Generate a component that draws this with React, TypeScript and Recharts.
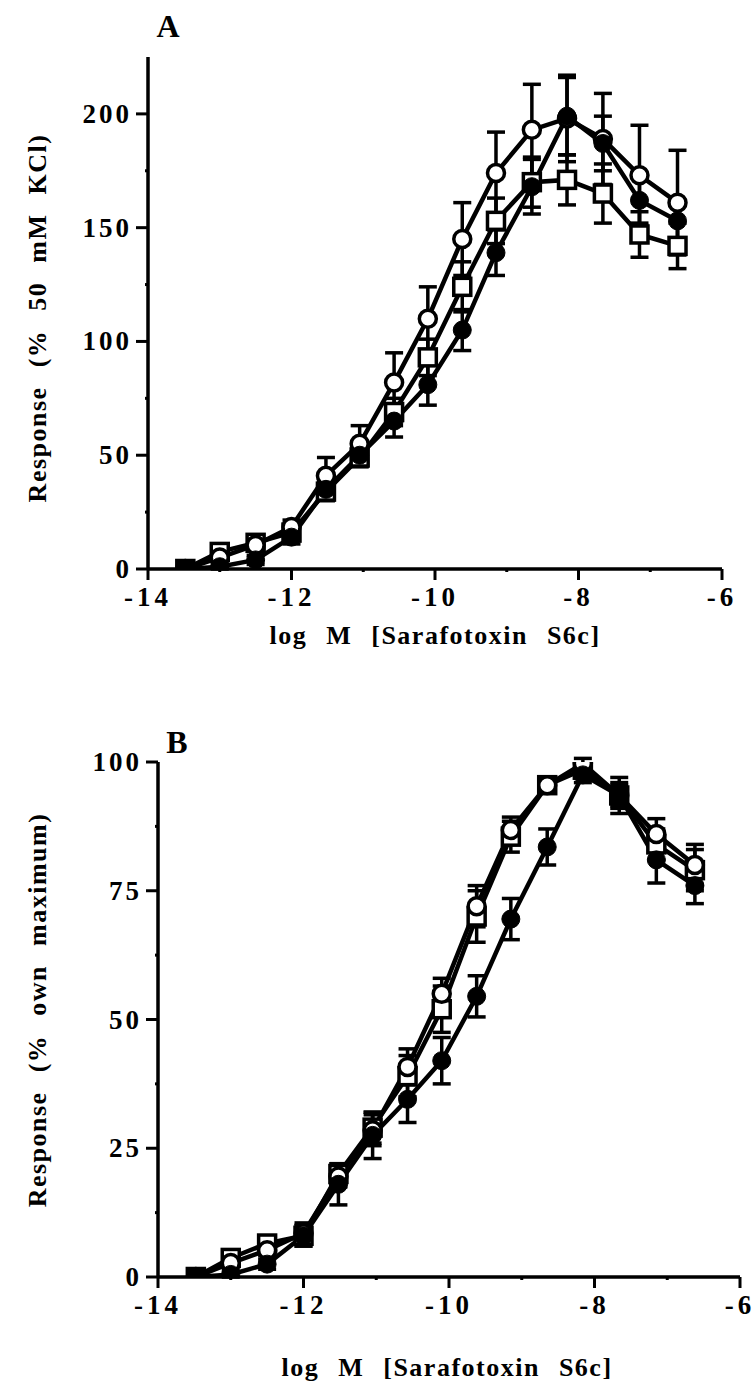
import React from "react";
import { ComposedChart, Line, XAxis, YAxis, ErrorBar } from "recharts";

// log molar concentrations
const logConc = [-13.48, -13.0, -12.5, -12.0, -11.52, -11.05, -10.57, -10.1, -9.62, -9.15, -8.65, -8.16, -7.66, -7.15, -6.62];

// Panel A: % 50 mM KCl
const openCircleA = [0, 5, 10.5, 18.5, 41, 55, 82, 110, 145, 174, 193, 198, 189, 173, 161];
const openCircleAErr = [0, 2, 2, 3, 8, 8, 13, 14, 16, 18, 20, 19, 20, 22, 23];
const filledCircleA = [0, 1, 4, 14, 35, 50, 65, 81, 105, 139, 168, 199, 187, 162, 153];
const filledCircleAErr = [0, 1, 2, 3, 4, 5, 7, 9, 9, 10, 12, 17, 12, 10, 9];
const openSquareA = [0, 7.5, 11.5, 16, 34, 49, 69, 93, 124, 153, 170, 171, 165, 147, 142];
const openSquareAErr = [0, 2, 2, 3, 4, 4, 6, 8, 11, 10, 11, 11, 13, 10, 10];

// Panel B: % own maximum
const openCircleB = [0, 2.7, 5.2, 8.5, 19.5, 28.5, 40.8, 55, 72, 86.8, 95.5, 99.7, 93.5, 86, 80];
const openCircleBErr = [0, 1, 1, 2, 2, 3, 3.5, 3, 4, 2.5, 1.5, 1, 2, 3, 4];
const filledCircleB = [0, 0.5, 2.5, 8, 18, 27.5, 34.5, 42, 54.5, 69.5, 83.5, 97.5, 93.5, 81, 76];
const filledCircleBErr = [0, 0.5, 1, 2, 4, 4.5, 4.5, 4.5, 4, 4, 3.5, 1.5, 2.5, 4.5, 3.5];
const openSquareB = [0, 3.7, 6.5, 8, 20, 29, 39, 52, 70, 85.5, 95.5, 98.5, 93.5, 84, 79];
const openSquareBErr = [0, 1, 1, 2, 2, 3, 4, 4.5, 5, 3, 1.5, 1, 3.5, 3, 4];

const xTicks = [-14, -13, -12, -11, -10, -9, -8, -7, -6];
const yTicksA = [0, 25, 50, 75, 100, 125, 150, 175, 200];
const yTicksB = [0, 12.5, 25, 37.5, 50, 62.5, 75, 87.5, 100];

const dataA = logConc.map((x, i) => ({
  x,
  o: openCircleA[i],
  oe: openCircleAErr[i],
  f: filledCircleA[i],
  fe: filledCircleAErr[i],
  s: openSquareA[i],
  se: openSquareAErr[i],
}));

const dataB = logConc.map((x, i) => ({
  x,
  o: openCircleB[i],
  oe: openCircleBErr[i],
  f: filledCircleB[i],
  fe: filledCircleBErr[i],
  s: openSquareB[i],
  se: openSquareBErr[i],
}));

const FONT = "'Liberation Serif', 'DejaVu Serif', serif";

const XTick = (props: any) => {
  const { x, y, payload } = props;
  const major = payload.value % 2 === 0;
  return (
    <g>
      <line x1={x} x2={x} y1={y} y2={y + (major ? 11 : 3)} stroke="#000" strokeWidth={3} />
      {major && (
        <text x={x} y={y + 37} textAnchor="middle" fontFamily={FONT} fontWeight="bold" fontSize={27} letterSpacing={4} fill="#000">
          {payload.value}
        </text>
      )}
    </g>
  );
};

const makeYTick = (majorStep: number) => (props: any) => {
  const { x, y, payload } = props;
  const major = payload.value % majorStep === 0;
  return (
    <g>
      <line x1={x - (major ? 12 : 3)} x2={x} y1={y} y2={y} stroke="#000" strokeWidth={3} />
      {major && (
        <text x={x - 16} y={y + 9} textAnchor="end" fontFamily={FONT} fontWeight="bold" fontSize={27} letterSpacing={3} fill="#000">
          {payload.value}
        </text>
      )}
    </g>
  );
};

const squareDot = (props: any) => {
  const { cx, cy, index } = props;
  if (cx == null || cy == null) return <g key={index} />;
  return <rect key={index} x={cx - 8.5} y={cy - 8.5} width={17} height={17} fill="#fff" stroke="#000" strokeWidth={3.5} />;
};

const openDot = { r: 8.5, fill: "#fff", stroke: "#000", strokeWidth: 3.5 };
const filledDot = { r: 9, fill: "#000", stroke: "#000", strokeWidth: 1 };

function Panel({ data, yDomain, yTicks, majorStep, margin, height }: any) {
  return (
    <ComposedChart width={756} height={height} data={data} margin={margin}>
      <XAxis
        dataKey="x"
        type="number"
        domain={[-14, -6]}
        ticks={xTicks}
        interval={0}
        height={60}
        tickSize={0}
        tickMargin={0}
        tickLine={false}
        axisLine={{ stroke: "#000", strokeWidth: 3.5 }}
        tick={<XTick />}
      />
      <YAxis
        type="number"
        domain={yDomain}
        ticks={yTicks}
        interval={0}
        width={margin.leftAxis}
        tickSize={0}
        tickMargin={0}
        tickLine={false}
        axisLine={{ stroke: "#000", strokeWidth: 3.5 }}
        tick={makeYTick(majorStep)}
        allowDataOverflow
      />
      <Line dataKey="s" stroke="#000" strokeWidth={4.5} dot={squareDot} isAnimationActive={false}>
        <ErrorBar dataKey="se" width={9} stroke="#000" strokeWidth={3.5} direction="y" />
      </Line>
      <Line dataKey="o" stroke="#000" strokeWidth={4.5} dot={openDot} isAnimationActive={false}>
        <ErrorBar dataKey="oe" width={9} stroke="#000" strokeWidth={3.5} direction="y" />
      </Line>
      <Line dataKey="f" stroke="#000" strokeWidth={4.5} dot={filledDot} isAnimationActive={false}>
        <ErrorBar dataKey="fe" width={9} stroke="#000" strokeWidth={3.5} direction="y" />
      </Line>
    </ComposedChart>
  );
}

const textStyle: React.CSSProperties = {
  position: "absolute",
  fontFamily: FONT,
  fontWeight: "bold",
  color: "#000",
  whiteSpace: "nowrap",
};

function Title({ cx, cy, text, size = 26, rotate = false, ls = 1.5, ws = 11 }: any) {
  return (
    <div
      style={{
        ...textStyle,
        left: cx,
        top: cy,
        fontSize: size,
        letterSpacing: ls,
        wordSpacing: ws,
        transform: `translate(-50%, -50%)${rotate ? " rotate(-90deg)" : ""}`,
      }}
    >
      {text}
    </div>
  );
}

export default function App() {
  return (
    <div style={{ position: "absolute", left: 0, top: 0, width: 756, height: 1390, background: "#fff" }}>
      <div style={{ position: "absolute", left: 0, top: 0 }}>
        <Panel
          data={dataA}
          height={629}
          yDomain={[0, 225]}
          yTicks={yTicksA}
          majorStep={50}
          margin={{ top: 57, right: 34, bottom: 0, left: 0, leftAxis: 148 }}
        />
      </div>
      <div style={{ position: "absolute", left: 0, top: 700 }}>
        <Panel
          data={dataB}
          height={637}
          yDomain={[0, 100]}
          yTicks={yTicksB}
          majorStep={25}
          margin={{ top: 62, right: 16, bottom: 0, left: 0, leftAxis: 158 }}
        />
      </div>
      <Title cx={168} cy={26} text="A" size={32} ls={0} ws={0} />
      <Title cx={177} cy={742} text="B" size={32} ls={0} ws={0} />
      <Title cx={435} cy={636} text="log M [Sarafotoxin S6c]" />
      <Title cx={447} cy={1368} text="log M [Sarafotoxin S6c]" />
      <Title cx={38} cy={318} text="Response (% 50 mM KCl)" rotate />
      <Title cx={38} cy={1010} text="Response (% own maximum)" rotate />
    </div>
  );
}
